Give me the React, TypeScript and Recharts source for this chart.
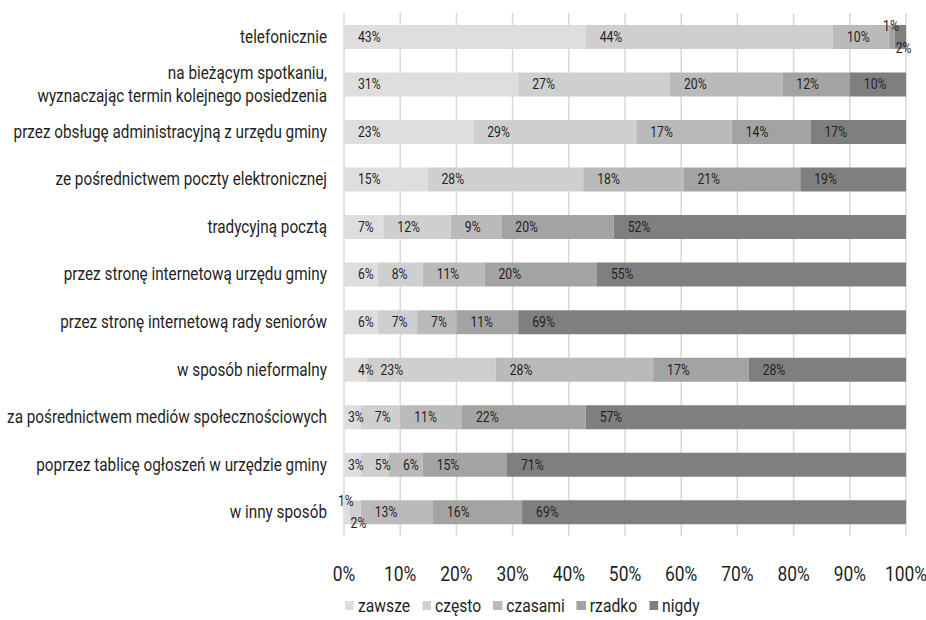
import { Bar, BarChart, CartesianGrid, LabelList, Legend, XAxis, YAxis } from 'recharts'

// Categories, top to bottom
const categories = [
  'telefonicznie',
  'na bieżącym spotkaniu,\nwyznaczając termin kolejnego posiedzenia',
  'przez obsługę administracyjną z urzędu gminy',
  'ze pośrednictwem poczty elektronicznej',
  'tradycyjną pocztą',
  'przez stronę internetową urzędu gminy',
  'przez stronę internetową rady seniorów',
  'w sposób nieformalny',
  'za pośrednictwem mediów społecznościowych',
  'poprzez tablicę ogłoszeń w urzędzie gminy',
  'w inny sposób',
]

// Percent values per answer
const zawsze = [43, 31, 23, 15, 7, 6, 6, 4, 3, 3, 1]
const czesto = [44, 27, 29, 28, 12, 8, 7, 23, 7, 5, 2]
const czasami = [10, 20, 17, 18, 9, 11, 7, 28, 11, 6, 13]
const rzadko = [1, 12, 14, 21, 20, 20, 11, 17, 22, 15, 16]
const nigdy = [2, 10, 17, 19, 52, 55, 69, 28, 57, 71, 69]

const xTicks = [0, 0.1, 0.2, 0.3, 0.4, 0.5, 0.6, 0.7, 0.8, 0.9, 1]

const series = [
  { key: 'zawsze', name: 'zawsze', color: '#dedede' },
  { key: 'czesto', name: 'często', color: '#cfcfcf' },
  { key: 'czasami', name: 'czasami', color: '#bababa' },
  { key: 'rzadko', name: 'rzadko', color: '#a3a3a3' },
  { key: 'nigdy', name: 'nigdy', color: '#7f7f7f' },
]

const data = categories.map((name, i) => ({
  name,
  zawsze: zawsze[i],
  czesto: czesto[i],
  czasami: czasami[i],
  rzadko: rzadko[i],
  nigdy: nigdy[i],
}))

// no condensed face installed, so Roboto gets squeezed horizontally
const FONT = 'Roboto, "Noto Sans", sans-serif'
const SQUEEZE = 0.87
const TEXT = '#1f1f1f'

function CategoryTick(props: any) {
  const { x, y, payload } = props
  const lines = String(payload.value).split('\n')
  const start = -((lines.length - 1) * 23) / 2
  return (
    <g transform={`translate(${x},${y}) scale(0.85,1)`}>
      <text textAnchor='end' fill={TEXT} fontSize={18} fontFamily={FONT}>
        {lines.map((line, i) => (
          <tspan key={i} x={0} y={start + i * 23} dominantBaseline='central'>
            {line}
          </tspan>
        ))}
      </text>
    </g>
  )
}

function PercentTick(props: any) {
  const { x, y, payload } = props
  return (
    <g transform={`translate(${x},${y}) scale(${SQUEEZE},1)`}>
      <text textAnchor='middle' dy='0.71em' fill={TEXT} fontSize={20} fontFamily={FONT}>
        {`${Math.round(payload.value * 100)}%`}
      </text>
    </g>
  )
}

function SegmentLabel(props: any) {
  const { x, y, width, height, value } = props
  if (value == null) return null
  let tx = x + (width < 20 ? 4 : 14)
  let ty = y + height / 2
  let anchor: 'start' | 'middle' = 'start'
  // tiny segments: label pushed to the bar edge
  if (value === 1) {
    tx = x + width / 2 - 1
    ty = y + 1
    anchor = 'middle'
  } else if (value === 2) {
    tx = x + 1
    ty = y + height - 1
  }
  return (
    <g transform={`translate(${tx},${ty}) scale(${SQUEEZE},1)`}>
      <text textAnchor={anchor} dominantBaseline='central' fill={TEXT} fontSize={14} fontFamily={FONT}>
        {value}%
      </text>
    </g>
  )
}

function LegendContent() {
  const k = SQUEEZE
  return (
    <div style={{ height: 30, display: 'flex', alignItems: 'center', paddingLeft: 345 }}>
      <div style={{ display: 'flex', alignItems: 'center', transform: `scaleX(${k})`, transformOrigin: 'left center', fontFamily: FONT, fontSize: 18, color: TEXT }}>
        {series.map((s) => (
          <span key={s.key} style={{ display: 'flex', alignItems: 'center', marginRight: 12 / k }}>
            <span style={{ width: 9 / k, height: 9, background: s.color, marginRight: 4 / k, display: 'inline-block' }} />
            {s.name}
          </span>
        ))}
      </div>
    </div>
  )
}

export default function App() {
  return (
    <div style={{ position: 'absolute', left: 0, top: 0, width: 926, height: 620 }}>
      <BarChart
        width={926}
        height={620}
        data={data}
        layout='vertical'
        stackOffset='expand'
        barCategoryGap='25%'
        margin={{ top: 13, right: 20, left: 0, bottom: 0 }}
      >
        <CartesianGrid horizontal={false} stroke='#d9d9d9' strokeWidth={1.5} />
        <XAxis
          type='number'
          domain={[0, 1]}
          ticks={xTicks}
          axisLine={false}
          tickLine={false}
          tickMargin={25}
          height={54}
          tick={<PercentTick />}
        />
        <YAxis
          type='category'
          dataKey='name'
          width={344}
          axisLine={false}
          tickLine={false}
          tickMargin={11}
          interval={0}
          tick={<CategoryTick />}
        />
        <Legend verticalAlign='bottom' content={<LegendContent />} />
        {series.map((s) => (
          <Bar key={s.key} dataKey={s.key} name={s.name} stackId='a' fill={s.color} isAnimationActive={false}>
            <LabelList dataKey={s.key} content={<SegmentLabel />} />
          </Bar>
        ))}
      </BarChart>
    </div>
  )
}
